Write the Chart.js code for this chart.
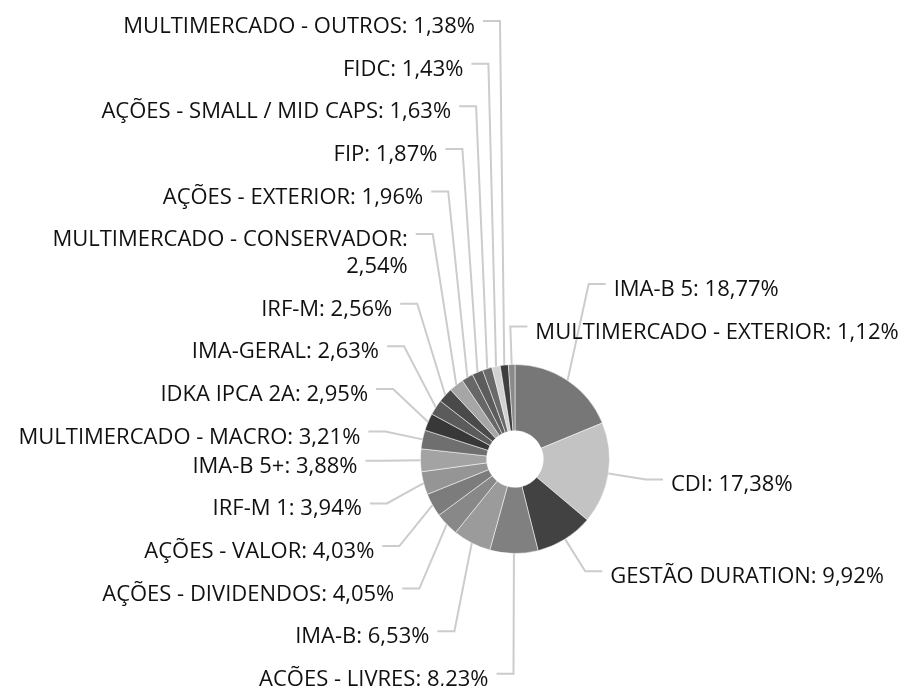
<!DOCTYPE html>
<html lang="pt-BR">
<head>
<meta charset="utf-8">
<title>Alocação por segmento</title>
<script src="https://cdn.jsdelivr.net/npm/chart.js@4.4.1/dist/chart.umd.min.js"></script>
<style>
    html, body { margin: 0; padding: 0; background: #fff; }
    #wrap { width: 902px; height: 686px; position: relative; }
</style>
</head>
<body>
<div id="wrap"><canvas id="allocChart"></canvas></div>
<script>
// ── DATA ─────────────────────────────────────────────────────
// Slices run clockwise from 12 o'clock, in this order
const categories = [
    'IMA-B 5', 'CDI', 'GESTÃO DURATION', 'AÇÕES - LIVRES', 'IMA-B',
    'AÇÕES - DIVIDENDOS', 'AÇÕES - VALOR', 'IRF-M 1', 'IMA-B 5+',
    'MULTIMERCADO - MACRO', 'IDKA IPCA 2A', 'IMA-GERAL', 'IRF-M',
    'MULTIMERCADO - CONSERVADOR', 'AÇÕES - EXTERIOR', 'FIP',
    'AÇÕES - SMALL / MID CAPS', 'FIDC', 'MULTIMERCADO - OUTROS',
    'MULTIMERCADO - EXTERIOR'
];
const shares = [
    18.77, 17.38, 9.92, 8.23, 6.53,
    4.05, 4.03, 3.94, 3.88,
    3.21, 2.95, 2.63, 2.56,
    2.54, 1.96, 1.87,
    1.63, 1.43, 1.38,
    1.12
];
const sliceColors = [
    '#777777', '#c3c3c3', '#424242', '#808080', '#9b9b9b',
    '#888888', '#7c7c7c', '#959595', '#a3a3a3',
    '#6f6f6f', '#383838', '#5b5b5b', '#4a4a4a',
    '#a6a6a6', '#676767', '#5c5c5c',
    '#6a6a6a', '#d2d2d2', '#3e3e3e',
    '#8a8a8a'
];

// ── LABEL SETTINGS ───────────────────────────────────────────
const FONT_SIZE   = 22;
const LINE_HEIGHT = 27;
const LABEL_PAD   = 15.6;  // extra room between stacked labels
const LINE_LEN    = 38;    // how far the label line reaches past the slice
const LINE_LEN2   = 17;    // horizontal tail of the label line
const TEXT_GAP    = 8;     // gap between the tail and the text
const TEXT_DY     = 12;    // baseline offset from the line

const fmt = v => v.toFixed(2).replace('.', ',') + '%';

function wrapText(ctx, text, maxWidth) {
    if (ctx.measureText(text).width <= maxWidth) return [text];
    const lines = [];
    let line = '';
    text.split(' ').forEach(word => {
        const test = line ? line + ' ' + word : word;
        if (line && ctx.measureText(test).width > maxWidth) {
            lines.push(line);
            line = word;
        } else {
            line = test;
        }
    });
    if (line) lines.push(line);
    return lines;
}

// Labels above the centre get pushed up, labels below get pushed down
function placeSide(list, cy) {
    const upper = list.filter(it => it.ny < cy);
    const lower = list.filter(it => it.ny >= cy);

    let limit = Infinity;
    for (let k = upper.length - 1; k >= 0; k--) {
        const it = upper[k];
        it.ly = Math.min(it.ny, limit - it.h);
        limit = it.ly;
    }

    let next = -Infinity;
    lower.forEach(it => {
        it.ly = Math.max(it.ny, next);
        next = it.ly + it.h;
    });
}

// ── OUTSIDE LABELS PLUGIN ────────────────────────────────────
const outLabels = {
    id: 'outLabels',
    afterDatasetsDraw(chart) {
        const { ctx, width } = chart;
        const meta   = chart.getDatasetMeta(0);
        const labels = chart.data.labels;
        const values = chart.data.datasets[0].data;
        const TWO_PI = Math.PI * 2;

        ctx.save();
        ctx.font = `${FONT_SIZE}px "Open Sans"`;

        let cy = 0;
        const items = meta.data.map((arc, i) => {
            const { x, y, startAngle, endAngle, outerRadius } =
                arc.getProps(['x', 'y', 'startAngle', 'endAngle', 'outerRadius'], true);
            cy = y;
            const mid = (startAngle + endAngle) / 2;

            // side follows where the slice ends, clockwise from 12 o'clock
            let end = (endAngle + Math.PI / 2) % TWO_PI;
            if (end > TWO_PI - 1e-6) end = 0;
            const right = end < Math.PI;
            const dir = right ? 1 : -1;

            const reach = outerRadius + LINE_LEN;
            const x2 = x + reach * Math.cos(mid);
            const x3 = x2 + dir * LINE_LEN2;
            const tx = x3 + dir * TEXT_GAP;
            const text  = `${labels[i]}: ${fmt(values[i])}`;
            const lines = wrapText(ctx, text, right ? width - tx : tx);

            return {
                right, dir, x2, x3, tx, lines,
                x1: x + outerRadius * Math.cos(mid),
                y1: y + outerRadius * Math.sin(mid),
                ny: y + reach * Math.sin(mid),
                h:  lines.length * LINE_HEIGHT + LABEL_PAD
            };
        });

        placeSide(items.filter(it => it.right), cy);
        placeSide(items.filter(it => !it.right).reverse(), cy);

        ctx.strokeStyle = '#cccccc';
        ctx.lineWidth = 2;
        ctx.fillStyle = '#111111';
        ctx.textBaseline = 'alphabetic';

        items.forEach(it => {
            ctx.beginPath();
            ctx.moveTo(it.x1, it.y1);
            ctx.lineTo(it.x2, it.ly);
            ctx.lineTo(it.x3, it.ly);
            ctx.stroke();

            ctx.textAlign = it.right ? 'left' : 'right';
            it.lines.forEach((line, k) => {
                ctx.fillText(line, it.tx, it.ly + TEXT_DY + k * LINE_HEIGHT);
            });
        });

        ctx.restore();
    }
};

// ── RENDER CHART ─────────────────────────────────────────────
new Chart(document.getElementById('allocChart'), {
    type: 'doughnut',
    data: {
        labels: categories,
        datasets: [{
            data: shares,
            backgroundColor: sliceColors,
            borderColor: 'rgba(255,255,255,0.5)',
            borderWidth: 1,
            hoverOffset: 0
        }]
    },
    options: {
        responsive: true,
        maintainAspectRatio: false,
        animation: false,
        cutout: '30%',
        layout: {
            padding: { top: 364, left: 420, right: 292, bottom: 132 }
        },
        plugins: {
            legend:  { display: false },
            tooltip: { enabled: false }
        }
    },
    plugins: [outLabels]
});
</script>
</body>
</html>
